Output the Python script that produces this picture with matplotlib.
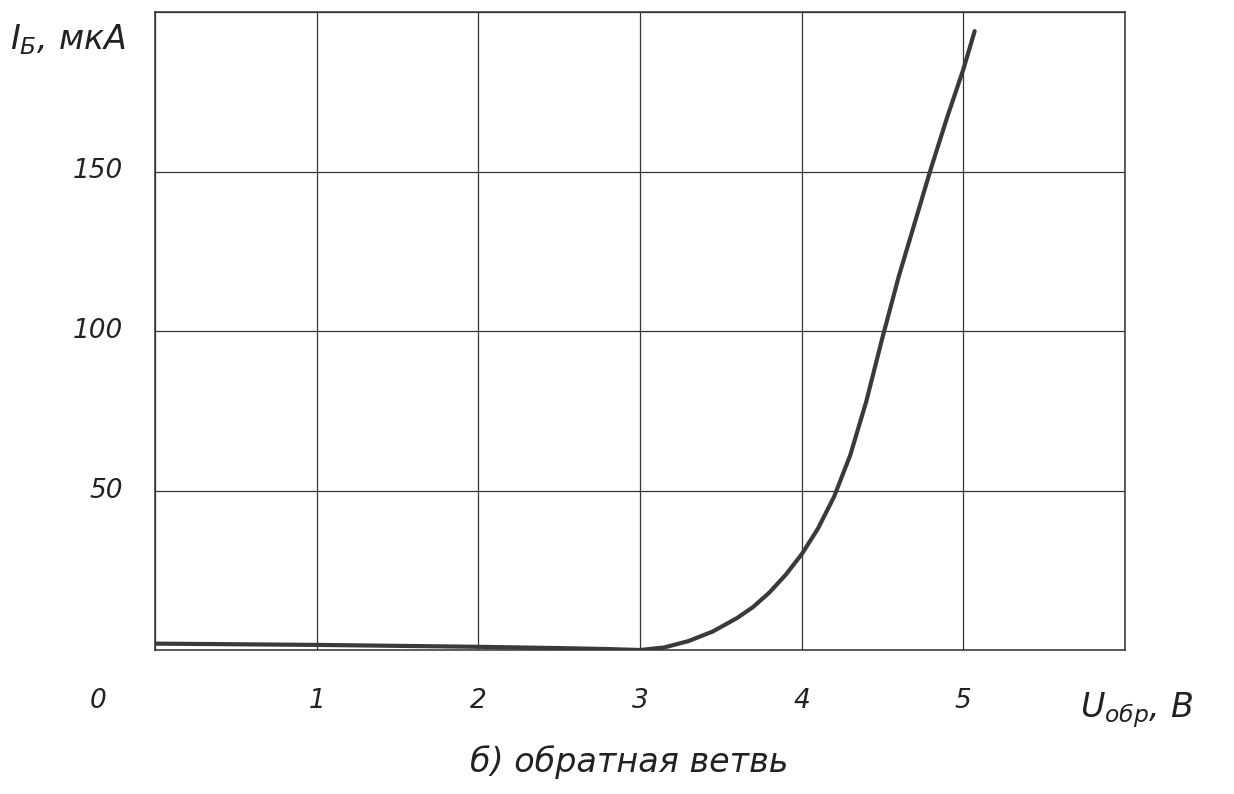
import matplotlib
matplotlib.use("Agg")
import matplotlib.pyplot as plt
import numpy as np

# data
u_vals = [0.0, 0.5, 1.0, 1.5, 2.0, 2.5, 2.8, 3.0, 3.15, 3.3, 3.45, 3.6, 3.7, 3.8, 3.9, 4.0,
          4.1, 4.2, 4.3, 4.4, 4.5, 4.6, 4.7, 4.8, 4.9, 5.0, 5.07]
i_vals = [2.0, 1.8, 1.6, 1.3, 1.0, 0.6, 0.3, 0.0, 0.8, 2.8, 5.8, 10.0, 13.5, 18.0, 23.5, 30.0,
          38.0, 48.0, 61.0, 78.0, 98.0, 117.0, 134.0, 151.0, 167.0, 182.0, 194.0]
x_ticks = [1, 2, 3, 4, 5]
y_ticks = [50, 100, 150]

fig = plt.figure(figsize=(12.34, 7.94), dpi=100)
ax = fig.add_axes([155/1234, 1 - 650/794, (1125-155)/1234, (650-12)/794])
ax.set_xlim(0, 6)
ax.set_ylim(0, 200)

ax.plot(u_vals, i_vals, color="#3a3a3a", lw=3.0, solid_capstyle="round", solid_joinstyle="round")

ax.set_xticks(range(0, 7))
ax.set_yticks([0, 50, 100, 150, 200])
ax.grid(True, color="#333333", lw=0.9)
ax.tick_params(length=0, labelleft=False, labelbottom=False)
for s in ax.spines.values():
    s.set_color("#333333")
    s.set_linewidth(1.1)

tf = dict(fontsize=19, style="italic", color="#222222", family="DejaVu Sans")
for x in x_ticks:
    ax.text(x, -12, str(x), ha="center", va="top", transform=ax.transData, **tf)
for y in y_ticks:
    ax.text(-0.2, y, str(y), ha="right", va="center", **tf)
ax.text(-0.35, -12, "0", ha="center", va="top", **tf)

fig.text(10/1234, 1 - 40/794, r"$I_{Б}$, мкА", fontsize=24, style="italic", color="#222222", va="center", ha="left")
fig.text(1080/1234, 1 - 710/794, r"$U_{обр}$, В", fontsize=24, style="italic", color="#222222", va="center", ha="left")
fig.text(470/1234, 1 - 762/794, "б) обратная ветвь", fontsize=24, style="italic", color="#222222", va="center", ha="left")

fig.savefig("out.png", dpi=100, facecolor="white")
